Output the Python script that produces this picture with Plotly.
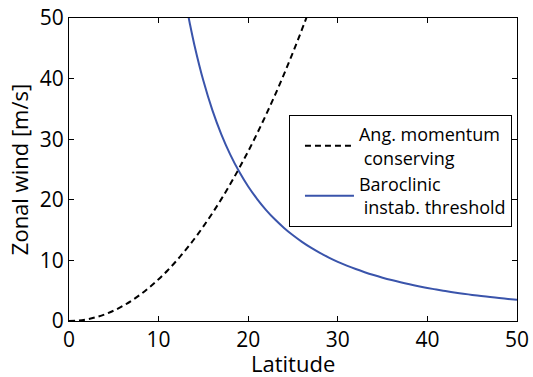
import plotly.graph_objects as go

# Latitude grid (degrees)
lat_amc = [0, 1, 2, 3, 4, 5, 6, 7, 8, 9, 10, 11, 12, 13, 14, 15, 16, 17, 18,
           19, 20, 21, 22, 23, 24, 25, 26, 27]
# Angular-momentum-conserving zonal wind (m/s)
u_amc = [0.0, 0.069, 0.274, 0.617, 1.097, 1.716, 2.472, 3.367, 4.401, 5.575,
         6.889, 8.345, 9.944, 11.69, 13.57, 15.61, 17.79, 20.11, 22.59, 25.23,
         28.01, 30.95, 34.06, 37.31, 40.74, 44.34, 48.11, 52.04]

lat_bc = [13, 13.5, 14, 15, 16, 17, 18, 19, 20, 21, 22, 23, 24, 25, 26, 27, 28,
          29, 30, 31, 32, 33, 34, 35, 36, 37, 38, 39, 40, 41, 42, 43, 44, 45,
          46, 47, 48, 49, 50]
# Baroclinic instability threshold wind (m/s)
u_bc = [52.84, 48.98, 45.52, 39.63, 34.80, 30.81, 27.46, 24.62, 22.20, 20.12,
        18.31, 16.74, 15.36, 14.14, 13.06, 12.10, 11.24, 10.47, 9.77, 9.145,
        8.574, 8.055, 7.582, 7.150, 6.752, 6.388, 6.052, 5.743, 5.457, 5.192,
        4.946, 4.719, 4.506, 4.309, 4.125, 3.953, 3.792, 3.641, 3.501]

ticks = [0, 10, 20, 30, 40, 50]

font_family = "Open Sans"

fig = go.Figure()
fig.add_trace(go.Scatter(
    x=lat_amc, y=u_amc, mode="lines",
    name="Ang. momentum<br> conserving",
    line=dict(color="black", width=2, dash="6px,4px", shape="spline"),
))
fig.add_trace(go.Scatter(
    x=lat_bc, y=u_bc, mode="lines",
    name="Baroclinic<br> instab. threshold",
    line=dict(color="#3a54ab", width=2, shape="spline"),
))

axis_common = dict(
    range=[0, 50], tickvals=ticks, ticktext=[str(t) for t in ticks],
    ticks="inside", ticklen=5, tickwidth=1, tickcolor="black",
    showline=True, linecolor="black", linewidth=1, mirror="ticks",
    showgrid=False, zeroline=False, automargin=False,
    tickfont=dict(family=font_family, size=21, color="black"),
)

fig.update_layout(
    width=533, height=377,
    margin=dict(l=69, r=16, t=18, b=56),
    paper_bgcolor="white", plot_bgcolor="white",
    font=dict(family=font_family, color="black"),
    xaxis=dict(**axis_common),
    yaxis=dict(**axis_common,
               title=dict(text="Zonal wind [m/s]", standoff=5,
                          font=dict(family=font_family, size=22))),
    legend=dict(
        x=0.491, y=0.68, xanchor="left", yanchor="top",
        bgcolor="white", bordercolor="black", borderwidth=1,
        font=dict(family=font_family, size=18, color="black"),
        itemwidth=49, indentation=10,
    ),
    showlegend=True,
)

# x-axis title placed just below the tick labels
fig.add_annotation(
    text="Latitude", xref="paper", yref="paper", x=0.5, y=-0.138,
    xanchor="center", yanchor="middle", showarrow=False,
    font=dict(family=font_family, size=22, color="black"),
)

fig.write_html("out.html")
